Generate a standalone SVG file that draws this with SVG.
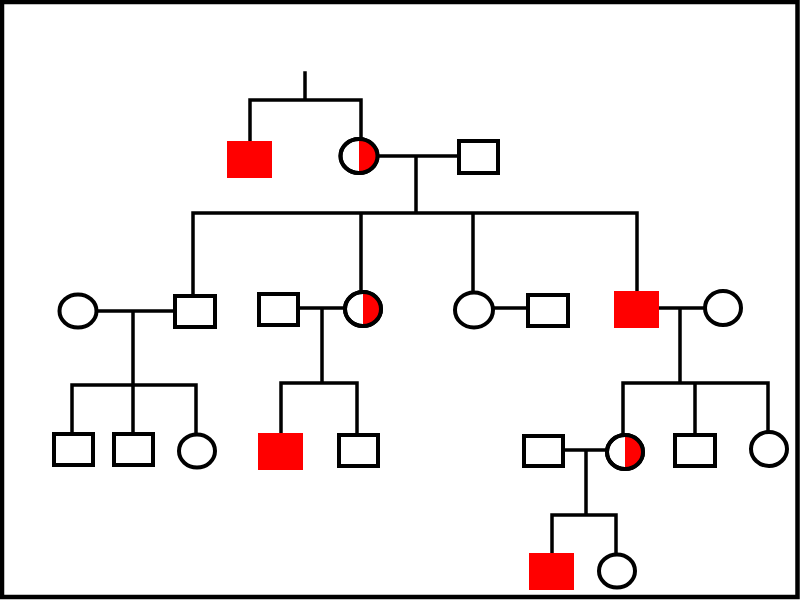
<svg xmlns="http://www.w3.org/2000/svg" width="800" height="600" viewBox="0 0 800 600">
<style>
.ln{stroke:#000;stroke-width:3.5;fill:none;stroke-linecap:square}
.sq{fill:#fff;stroke:#000;stroke-width:4}
.aff{fill:#f00;stroke:none}
.ci{fill:#fff;stroke:#000;stroke-width:4}
.hf{fill:#f00;stroke:none}
.ring{fill:none;stroke:#000;stroke-width:4}
</style>
<rect x="0" y="0" width="800" height="600" fill="#fff"/>
<rect x="2" y="2" width="795.5" height="595" fill="none" stroke="#000" stroke-width="4.5"/>
<g id="connectors">
<path class="ln" d="M305,73 V100 M250,100 H361 M250,100 V141 M361,100 V139"/>
<path class="ln" d="M378,156 H459 M416,156 V213 M193,213 H637 M193,213 V296 M361,213 V291 M473,213 V292 M637,213 V291"/>
<path class="ln" d="M97,311 H175 M133,311 V385 M72,385 H196 M72,385 V434 M133,385 V434 M196,385 V434"/>
<path class="ln" d="M298,308 H345 M322,308 V383 M281,383 H357 M281,383 V433 M357,383 V435"/>
<path class="ln" d="M495,308 H528"/>
<path class="ln" d="M659,308 H705 M680,308 V383 M623,383 H768 M623,383 V435 M695,383 V435 M768,383 V432"/>
<path class="ln" d="M563,450 H607 M586,450 V515 M552,515 H616 M552,515 V553 M616,515 V554"/>
</g>
<g id="I1"><rect class="aff" x="227" y="141" width="45" height="37"/></g>
<g id="I2"><ellipse class="ci" cx="359" cy="156" rx="18.5" ry="17"/><path class="hf" d="M359,139 A18.5,17 0 0 1 359,173 Z"/><ellipse class="ring" cx="359" cy="156" rx="18.5" ry="17"/></g>
<g id="I3"><rect class="sq" x="459" y="141" width="39" height="32"/></g>
<g id="II1"><ellipse class="ci" cx="78" cy="311" rx="18.5" ry="16.5"/></g>
<g id="II2"><rect class="sq" x="175" y="296" width="40" height="31"/></g>
<g id="II3"><rect class="sq" x="259" y="294" width="39" height="31"/></g>
<g id="II4"><ellipse class="ci" cx="363" cy="309" rx="18" ry="17"/><path class="hf" d="M363,292 A18,17 0 0 1 363,326 Z"/><ellipse class="ring" cx="363" cy="309" rx="18" ry="17"/></g>
<g id="II5"><ellipse class="ci" cx="474" cy="310" rx="19" ry="17.5"/></g>
<g id="II6"><rect class="sq" x="528" y="295" width="40" height="31"/></g>
<g id="II7"><rect class="aff" x="614" y="291" width="45" height="37"/></g>
<g id="II8"><ellipse class="ci" cx="723" cy="308" rx="18" ry="17"/></g>
<g id="III1"><rect class="sq" x="54" y="434" width="39" height="31"/></g>
<g id="III2"><rect class="sq" x="114" y="434" width="39" height="31"/></g>
<g id="III3"><ellipse class="ci" cx="197" cy="451" rx="18" ry="16.5"/></g>
<g id="III4"><rect class="aff" x="258" y="433" width="45" height="37"/></g>
<g id="III5"><rect class="sq" x="339" y="435" width="39" height="31"/></g>
<g id="III6"><rect class="sq" x="524" y="436" width="39" height="30"/></g>
<g id="III7"><ellipse class="ci" cx="625" cy="452" rx="18" ry="17"/><path class="hf" d="M625,435 A18,17 0 0 1 625,469 Z"/><ellipse class="ring" cx="625" cy="452" rx="18" ry="17"/></g>
<g id="III8"><rect class="sq" x="675" y="435" width="40" height="31"/></g>
<g id="III9"><ellipse class="ci" cx="769" cy="449" rx="18" ry="17"/></g>
<g id="IV1"><rect class="aff" x="529" y="553" width="45" height="37"/></g>
<g id="IV2"><ellipse class="ci" cx="617" cy="571" rx="18" ry="16.5"/></g>
</svg>
